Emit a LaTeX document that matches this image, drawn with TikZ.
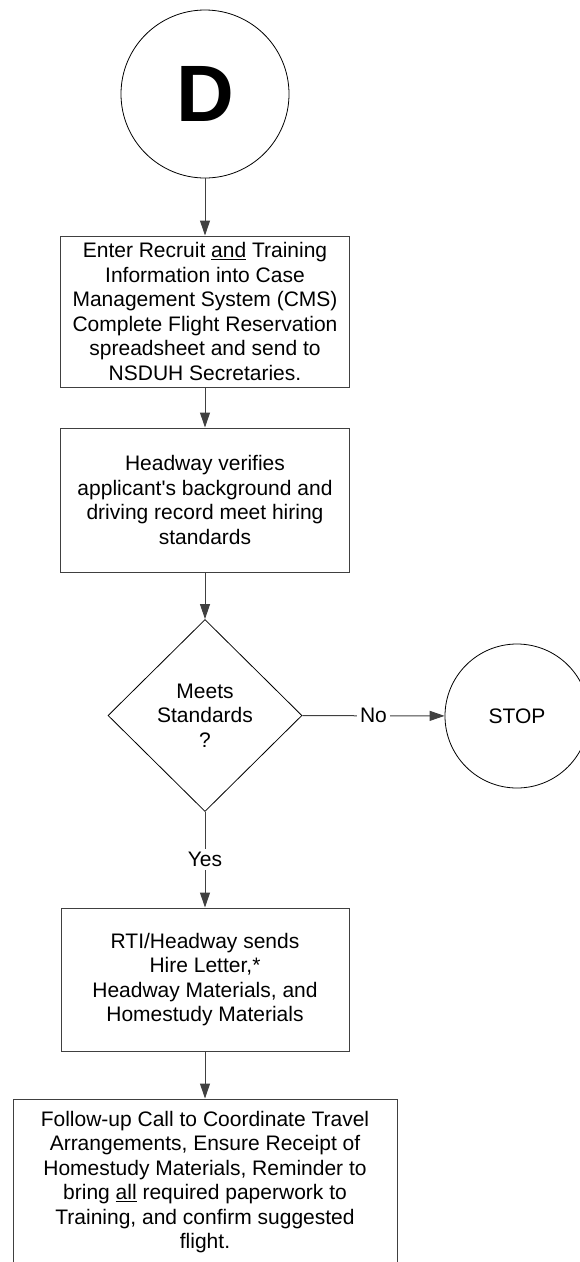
\documentclass[tikz,border=0pt]{standalone}
\usepackage{fontspec}
\setmainfont{Liberation Sans}
\usetikzlibrary{shapes.geometric,arrows.meta}

\begin{document}
\begin{tikzpicture}[x=1pt, y=-1pt,
    every node/.style = {font=\fontsize{21}{24.5}\selectfont},
    procbox/.style = {draw=black!75, line width=1pt, align=center, inner sep=0pt},
    connector/.style = {circle, draw=black, line width=0.8pt, inner sep=0pt},
    decision/.style = {diamond, draw=black, line width=0.8pt, align=center, inner sep=0pt},
    flow/.style = {draw=black!75, line width=1pt, -{Triangle[length=15pt,width=10pt]}},
    answer/.style = {fill=white, inner sep=3pt}]

            \clip (0,0) rectangle (580,1262);

            \node[connector, minimum size=168pt] (D) at (205,94) {\fontsize{80}{80}\selectfont\bfseries D};

            \node[procbox, minimum width=289pt, minimum height=151pt] (cms) at (205,311.5)
                {Enter Recruit \underline{and} Training\\Information into Case\\Management System (CMS)\\Complete Flight Reservation\\spreadsheet and send to\\NSDUH Secretaries.};
            \draw[flow] (D) -- (cms);

            \node[procbox, minimum width=289pt, minimum height=144pt] (verify) at (205,500)
                {Headway verifies\\applicant\textquotesingle s background and\\driving record meet hiring\\standards};
            \draw[flow] (cms) -- (verify);

            \node[decision, minimum width=194pt, minimum height=192pt] (meets) at (205,715.5)
                {Meets\\Standards\\?};
            \draw[flow] (verify) -- (meets);

            \node[connector, minimum size=144pt] (stop) at (517,716) {STOP};
            \draw[flow] (meets) -- node[answer] {No} (stop);

            \node[procbox, minimum width=288pt, minimum height=143pt] (hire) at (205,979.5)
                {RTI/Headway sends\\Hire Letter,*\\Headway Materials, and\\Homestudy Materials};
            \draw[flow] (meets) -- node[answer] {Yes} (hire);

            \node[procbox, minimum width=384pt, minimum height=166pt] (call) at (205,1182)
                {Follow-up Call to Coordinate Travel\\Arrangements, Ensure Receipt of\\Homestudy Materials, Reminder to\\bring \underline{all} required paperwork to\\Training, and confirm suggested\\flight.};
            \draw[flow] (hire) -- (call);

\end{tikzpicture}
\end{document}
